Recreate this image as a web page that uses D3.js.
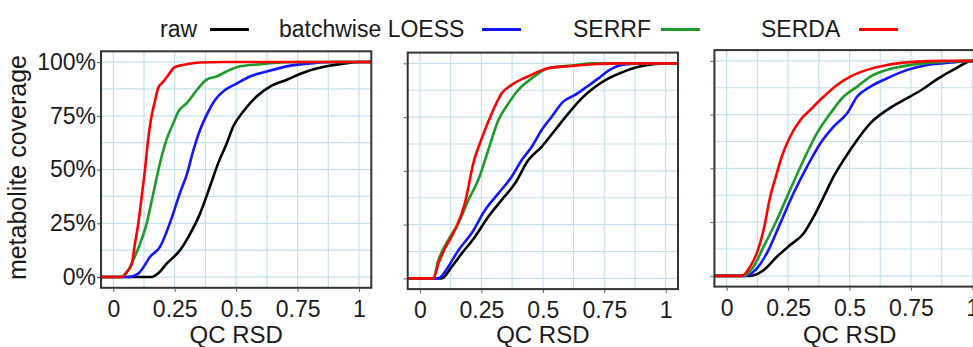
<!DOCTYPE html>
<html>
<head>
<meta charset="utf-8">
<script src="https://cdn.jsdelivr.net/npm/d3@7"></script>
<style>
  body { margin: 0; background: #fff; }
  svg { display: block; font-family: "Liberation Sans", Arial, sans-serif; }
</style>
</head>
<body>
<div id="chart"></div>
<script>
const methods = ['raw', 'batchwise LOESS', 'SERRF', 'SERDA'];

const xTicks = [0, 0.25, 0.5, 0.75, 1];
const xTickLabels = ['0', '0.25', '0.5', '0.75', '1'];
const xMinorTicks = [0.125, 0.375, 0.625, 0.875];
const yTicks = [0, 0.25, 0.5, 0.75, 1];
const yTickLabels = ['0%', '25%', '50%', '75%', '100%'];
const yMinorTicks = [0.125, 0.375, 0.625, 0.875];

// [QC RSD, cumulative fraction of metabolites]
const panel1Raw = [[0.156, 0], [0.185, 0.02], [0.217, 0.062], [0.271, 0.124], [0.312, 0.2], [0.353, 0.295], [0.393, 0.42], [0.427, 0.53], [0.461, 0.62], [0.488, 0.7], [0.529, 0.77], [0.583, 0.84], [0.638, 0.886], [0.706, 0.918], [0.787, 0.956], [0.868, 0.98], [0.95, 0.995], [1.0, 1]];
const panel1Loess = [[0.06, 0], [0.1, 0.015], [0.125, 0.05], [0.149, 0.093], [0.19, 0.14], [0.23, 0.25], [0.271, 0.39], [0.3, 0.48], [0.326, 0.59], [0.353, 0.684], [0.38, 0.754], [0.414, 0.824], [0.455, 0.87], [0.502, 0.9], [0.556, 0.933], [0.624, 0.956], [0.706, 0.98], [0.814, 0.995], [0.9, 1]];
const panel1Serrf = [[0.034, 0], [0.06, 0.03], [0.081, 0.078], [0.109, 0.155], [0.136, 0.25], [0.163, 0.39], [0.19, 0.53], [0.217, 0.64], [0.244, 0.715], [0.265, 0.77], [0.3, 0.81], [0.34, 0.87], [0.38, 0.918], [0.42, 0.933], [0.46, 0.956], [0.516, 0.98], [0.6, 0.99], [0.68, 0.998], [0.75, 1]];
const panel1Serda = [[0.034, 0], [0.054, 0.023], [0.075, 0.06], [0.088, 0.155], [0.102, 0.25], [0.115, 0.37], [0.129, 0.5], [0.142, 0.64], [0.156, 0.75], [0.17, 0.82], [0.183, 0.88], [0.204, 0.91], [0.224, 0.94], [0.251, 0.977], [0.3, 0.99], [0.35, 0.998], [0.45, 1]];

const panel2Raw = [[0.088, 0], [0.129, 0.054], [0.17, 0.116], [0.224, 0.194], [0.278, 0.287], [0.332, 0.364], [0.387, 0.442], [0.441, 0.55], [0.495, 0.612], [0.55, 0.69], [0.604, 0.767], [0.658, 0.837], [0.712, 0.89], [0.767, 0.93], [0.82, 0.957], [0.889, 0.984], [0.957, 0.997], [1.0, 1]];
const panel2Loess = [[0.075, 0], [0.095, 0.02], [0.115, 0.054], [0.156, 0.13], [0.21, 0.21], [0.265, 0.318], [0.319, 0.395], [0.373, 0.473], [0.414, 0.55], [0.455, 0.612], [0.495, 0.69], [0.536, 0.752], [0.583, 0.822], [0.631, 0.853], [0.678, 0.89], [0.726, 0.93], [0.767, 0.966], [0.82, 0.992], [0.89, 1]];
const panel2Serrf = [[0.054, 0], [0.075, 0.085], [0.115, 0.178], [0.156, 0.256], [0.197, 0.364], [0.237, 0.457], [0.278, 0.597], [0.319, 0.736], [0.36, 0.814], [0.4, 0.876], [0.455, 0.93], [0.522, 0.977], [0.617, 0.99], [0.712, 1]];
const panel2Serda = [[0.054, 0], [0.075, 0.07], [0.102, 0.14], [0.142, 0.225], [0.183, 0.35], [0.217, 0.535], [0.251, 0.65], [0.292, 0.767], [0.332, 0.86], [0.373, 0.9], [0.441, 0.94], [0.522, 0.977], [0.617, 0.988], [0.726, 0.997], [0.8, 1]];

const panel3Raw = [[0.095, 0], [0.15, 0.026], [0.204, 0.089], [0.258, 0.143], [0.313, 0.197], [0.354, 0.275], [0.395, 0.368], [0.435, 0.461], [0.476, 0.539], [0.531, 0.632], [0.585, 0.71], [0.653, 0.772], [0.721, 0.818], [0.789, 0.862], [0.857, 0.915], [0.925, 0.96], [1.0, 1]];
const panel3Loess = [[0.075, 0], [0.122, 0.034], [0.163, 0.104], [0.218, 0.244], [0.272, 0.384], [0.327, 0.508], [0.381, 0.616], [0.435, 0.694], [0.49, 0.756], [0.531, 0.834], [0.585, 0.88], [0.653, 0.919], [0.735, 0.958], [0.816, 0.981], [0.912, 0.992], [1.0, 1]];
const panel3Serrf = [[0.068, 0], [0.109, 0.042], [0.15, 0.135], [0.204, 0.26], [0.258, 0.4], [0.313, 0.539], [0.367, 0.663], [0.422, 0.756], [0.476, 0.834], [0.531, 0.88], [0.585, 0.927], [0.653, 0.958], [0.748, 0.981], [0.884, 0.995], [0.995, 1]];
const panel3Serda = [[0.061, 0], [0.095, 0.042], [0.122, 0.104], [0.15, 0.213], [0.177, 0.368], [0.204, 0.477], [0.224, 0.554], [0.258, 0.647], [0.3, 0.725], [0.34, 0.772], [0.395, 0.834], [0.449, 0.888], [0.503, 0.927], [0.571, 0.958], [0.653, 0.981], [0.748, 0.994], [0.884, 1]];

const panels = [
  [panel1Raw, panel1Loess, panel1Serrf, panel1Serda],
  [panel2Raw, panel2Loess, panel2Serrf, panel2Serda],
  [panel3Raw, panel3Loess, panel3Serrf, panel3Serda],
];

// styling / layout
const COLORS = ['#000000', '#1414ff', '#1e9a28', '#ff0000'];
const WIDTH = 973;
const HEIGHT = 347;
const PANEL_LEFT = [101, 407.7, 714.4];
const PANEL_SHIFT = [0, 1.3, -1.2];
const PANEL_WIDTH = 270.3;
const PANEL_TOP = 51.3;
const PANEL_HEIGHT = 236.5;
const X_DOMAIN = [-0.05, 1.05];
const Y_DOMAIN = [-0.05, 1.05];
const FONT = 23;
const LEGEND_TEXT_X = [160, 279, 573, 761];
const LEGEND_KEY_X = [210, 482, 661, 859];
const LEGEND_KEY_W = 39;

const svg = d3.select('#chart').append('svg').attr('width', WIDTH).attr('height', HEIGHT);

const defs = svg.append('defs');

const drawPanel = (series, index) => {
  const left = PANEL_LEFT[index];
  const top = PANEL_TOP + PANEL_SHIFT[index];
  const x = d3.scaleLinear().domain(X_DOMAIN).range([left, left + PANEL_WIDTH]);
  const y = d3.scaleLinear().domain(Y_DOMAIN).range([top + PANEL_HEIGHT, top]);
  const g = svg.append('g').attr('class', `panel panel-${index}`);

  defs.append('clipPath').attr('id', `clip-${index}`)
    .append('rect')
    .attr('x', left).attr('y', top)
    .attr('width', PANEL_WIDTH).attr('height', PANEL_HEIGHT);

  const grid = g.append('g').attr('class', 'grid');
  grid.selectAll('.vgrid')
    .data([...xMinorTicks, ...xTicks])
    .enter().append('line')
    .attr('x1', d => x(d)).attr('x2', d => x(d))
    .attr('y1', top).attr('y2', top + PANEL_HEIGHT)
    .attr('stroke', '#c4e1ec').attr('stroke-width', 1.2);
  grid.selectAll('.hgrid')
    .data([...yMinorTicks, ...yTicks])
    .enter().append('line')
    .attr('y1', d => y(d)).attr('y2', d => y(d))
    .attr('x1', left).attr('x2', left + PANEL_WIDTH)
    .attr('stroke', '#c4e1ec').attr('stroke-width', 1.2);

  // ecdf padded to the panel edges, like stat_ecdf(pad = TRUE)
  const line = d3.line()
    .x(d => x(d[0]))
    .y(d => y(d[1]))
    .curve(d3.curveMonotoneX);

  g.append('g').attr('clip-path', `url(#clip-${index})`)
    .selectAll('.ecdf')
    .data(series)
    .enter().append('path')
    .attr('class', 'ecdf')
    .attr('fill', 'none')
    .attr('stroke', (d, i) => COLORS[i])
    .attr('stroke-width', 2.6)
    .attr('stroke-linejoin', 'round')
    .attr('d', d => line([[X_DOMAIN[0], 0], ...d, [X_DOMAIN[1], 1]]));

  g.append('rect')
    .attr('x', left).attr('y', top)
    .attr('width', PANEL_WIDTH).attr('height', PANEL_HEIGHT)
    .attr('fill', 'none').attr('stroke', '#333').attr('stroke-width', 2);

  const xAxis = d3.axisBottom(x)
    .tickValues(xTicks)
    .tickFormat((d, i) => xTickLabels[i])
    .tickSize(3)
    .tickPadding(9);
  const xg = g.append('g')
    .attr('transform', `translate(0,${top + PANEL_HEIGHT + 1})`)
    .call(xAxis);

  const yAxis = d3.axisLeft(y)
    .tickValues(yTicks)
    .tickFormat((d, i) => (index === 0 ? yTickLabels[i] : ''))
    .tickSize(3)
    .tickPadding(1);
  const yg = g.append('g')
    .attr('transform', `translate(${left - 1},0)`)
    .call(yAxis);

  [xg, yg].forEach(axis => {
    axis.select('.domain').remove();
    axis.selectAll('.tick line').attr('stroke', '#555');
    axis.selectAll('text').attr('fill', '#1a1a1a').style('font-size', `${FONT}px`).style('font-family', null);
  });

  g.append('text')
    .attr('x', x(0.5))
    .attr('y', 343)
    .attr('text-anchor', 'middle')
    .attr('fill', '#1a1a1a')
    .style('font-size', '24px')
    .text('QC RSD');
};

panels.forEach(drawPanel);

svg.append('text')
  .attr('transform', `translate(25.5,${PANEL_TOP + PANEL_HEIGHT / 2 - 2}) rotate(-90)`)
  .attr('text-anchor', 'middle')
  .attr('fill', '#1a1a1a')
  .style('font-size', '25px')
  .text('metabolite coverage');

const legend = svg.append('g').attr('class', 'legend');
const items = legend.selectAll('.item').data(methods).enter().append('g').attr('class', 'item');
items.append('text')
  .attr('x', (d, i) => LEGEND_TEXT_X[i])
  .attr('y', 36.5)
  .attr('fill', '#1a1a1a')
  .style('font-size', `${FONT}px`)
  .text(d => d);
items.append('line')
  .attr('x1', (d, i) => LEGEND_KEY_X[i])
  .attr('x2', (d, i) => LEGEND_KEY_X[i] + LEGEND_KEY_W)
  .attr('y1', 29.5).attr('y2', 29.5)
  .attr('stroke', (d, i) => COLORS[i])
  .attr('stroke-width', 3);
</script>
</body>
</html>
